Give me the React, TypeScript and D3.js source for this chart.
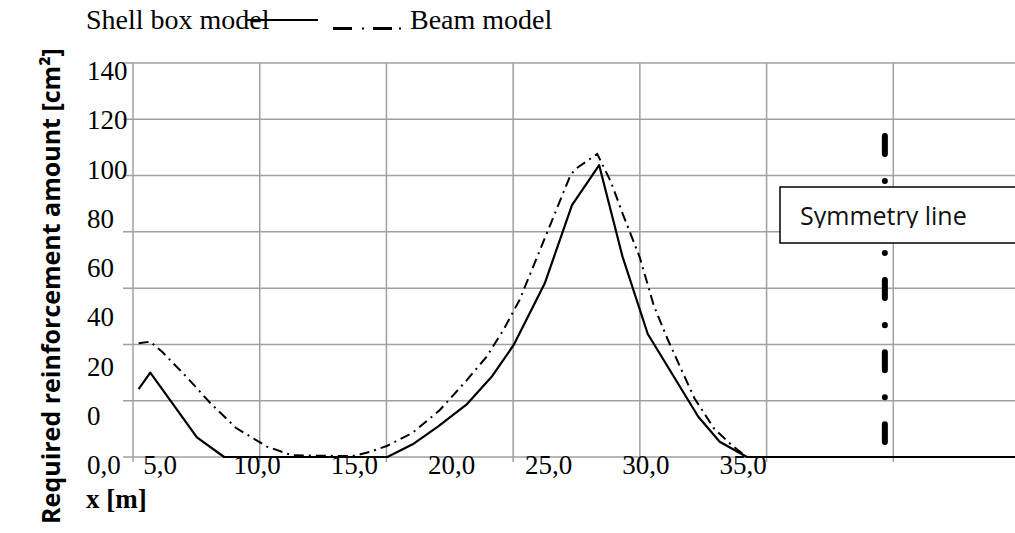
import React from "react";
import * as d3 from "d3";

// positions along the girder [m] and required reinforcement [cm2]
const shellX = [3.9, 4.5, 6.9, 8.3, 16.7, 18.0, 19.3, 20.8, 22.1, 23.2, 24.8, 26.2, 27.6, 28.8, 30.1, 32.7, 33.8, 35.2, 49.5];
const shellY = [24.1, 30.0, 7.0, 0, 0, 4.5, 10.8, 18.8, 28.8, 39.8, 61.7, 89.5, 103.7, 71.2, 43.7, 14.3, 5.4, 0, 0];

const beamX = [3.9, 4.5, 5.15, 6.4, 7.6, 8.9, 10.5, 11.8, 14.9, 15.8, 16.7, 18.0, 19.4, 20.8, 21.8, 22.7, 23.5, 24.8, 26.1, 26.35, 27.5, 28.2, 28.8, 29.7, 30.4, 31.1, 31.8, 32.5, 33.5, 34.4, 35.2, 49.5];
const beamY = [40.4, 41.0, 37.1, 28.2, 19.1, 10.4, 3.7, 0.6, 0.3, 1.8, 4.0, 8.6, 16.7, 27.4, 35.6, 45.5, 55.8, 77.7, 99.8, 102.2, 107.7, 97.8, 86.6, 70.7, 54.0, 42.2, 31.5, 20.9, 10.2, 4.3, 0, 0];

const xTicks = [5, 10, 15, 20, 25, 30, 35];
const yGrid = [0, 20, 40, 60, 80, 100, 120, 140];
const yLabels = ["140", "120", "100", "80", "60", "40", "20", "0", "0,0"];
const xGridCols = [0, 1, 2, 3, 4, 5, 6, 7];

const symmetryAt = 42.3;
const symmetrySpan = [5.3, 114.1];

const W = 1015;
const H = 533;
const serif = "'Liberation Serif', 'Times New Roman', serif";
const sans = "'Open Sans', 'Noto Sans', sans-serif";
const gridColor = "#a0a0a0";

export default function App() {
  const x = d3.scaleLinear().domain([5, 35]).range([160, 743]);
  const y = d3.scaleLinear().domain([0, 140]).range([457, 63]);
  const gridX = d3.scaleLinear().domain([0, 7]).range([133, 1020]);
  const labelY = d3.scalePoint<string>().domain(yLabels).range([80, 474]);

  const line = d3
    .line<[number, number]>()
    .x((d) => x(d[0]))
    .y((d) => y(d[1]));

  const shell = line(shellX.map((v, i) => [v, shellY[i]]) as [number, number][]) || "";
  const beam = line(beamX.map((v, i) => [v, beamY[i]]) as [number, number][]) || "";

  const fmt = (d: number) => d.toFixed(1).replace(".", ",");
  const symX = x(symmetryAt);

  return (
    <svg width={W} height={H} style={{ position: "absolute", left: 0, top: 0, background: "#fff" }}>
      <defs>
        <clipPath id="boxclip">
          <rect x={780} y={187} width={260} height={41} />
        </clipPath>
      </defs>

      {/* grid */}
      {yGrid.map((v) => (
        <line key={"h" + v} x1={123} x2={W} y1={y(v)} y2={y(v)} stroke={gridColor} strokeWidth={1.5} />
      ))}
      {xGridCols.map((c) => (
        <line key={"v" + c} x1={gridX(c)} x2={gridX(c)} y1={y(140)} y2={y(0) + 5} stroke={gridColor} strokeWidth={1.5} />
      ))}

      {/* series */}
      <path d={beam} fill="none" stroke="#000" strokeWidth={2} strokeDasharray="10,5,2,5" />
      <path d={shell} fill="none" stroke="#000" strokeWidth={2.2} strokeLinejoin="round" />

      {/* symmetry line */}
      <line
        x1={symX}
        x2={symX}
        y1={y(symmetrySpan[1])}
        y2={y(symmetrySpan[0])}
        stroke="#000"
        strokeWidth={6}
        strokeLinecap="round"
        strokeDasharray="18,27,0.1,27"
      />
      <rect x={780} y={187} width={260} height={56} fill="#fff" stroke="#000" strokeWidth={1.5} />
      <text x={800} y={225} fontFamily={sans} fontSize={25} fill="#111" clipPath="url(#boxclip)">
        Symmetry line
      </text>

      {/* tick labels */}
      {yLabels.map((l) => (
        <text key={"yl" + l} x={87} y={labelY(l)} fontFamily={serif} fontSize={27} fill="#000">
          {l}
        </text>
      ))}
      {xTicks.map((t) => (
        <text key={"xl" + t} x={x(t)} y={474} textAnchor="middle" fontFamily={serif} fontSize={27} fill="#000">
          {fmt(t)}
        </text>
      ))}

      {/* legend */}
      <text x={86} y={29} fontFamily={serif} fontSize={28} fill="#000">
        Shell box model
      </text>
      <line x1={247} x2={318} y1={20} y2={20} stroke="#000" strokeWidth={2} />
      <rect x={333} y={27} width={19} height={3} fill="#000" />
      <rect x={362} y={27.5} width={2} height={2} fill="#000" />
      <rect x={373} y={27} width={19} height={3} fill="#000" />
      <rect x={399} y={27.5} width={2} height={2} fill="#000" />
      <text x={410} y={29} fontFamily={serif} fontSize={28} fill="#000">
        Beam model
      </text>

      {/* axis titles */}
      <text
        transform="translate(60,286) rotate(-90)"
        textAnchor="middle"
        fontFamily={sans}
        fontWeight="bold"
        fontSize={25}
        fill="#000"
      >
        Required reinforcement amount [cm²]
      </text>
      <text x={86} y={508} fontFamily={serif} fontWeight="bold" fontSize={27} fill="#000">
        x [m]
      </text>
    </svg>
  );
}
